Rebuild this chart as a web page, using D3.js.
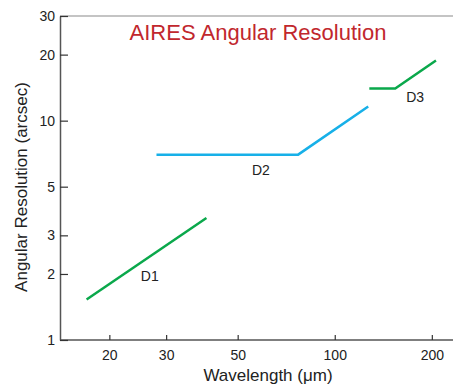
<!DOCTYPE html>
<html>
<head>
<meta charset="utf-8">
<script src="https://cdn.jsdelivr.net/npm/d3@7"></script>
<style>
  body { margin: 0; background: #fff; }
  svg { display: block; font-family: "Liberation Sans", Arial, sans-serif; }
</style>
</head>
<body>
<div id="chart"></div>
<script>
// Detector segments: wavelength (um) vs angular resolution (arcsec)
const d1Wavelength = [17, 40];
const d1Resolution = [1.53, 3.6];
const d2Wavelength = [28, 77, 127];
const d2Resolution = [7.0, 7.0, 11.6];
const d3Wavelength = [128, 154, 206];
const d3Resolution = [14.0, 14.0, 18.8];

const segmentNames = ["D1", "D2", "D3"];
// label anchor points in data space
const labelWavelength = [26.7, 59, 177.5];
const labelResolution = [1.95, 5.93, 12.87];

const xTicks = [20, 30, 50, 100, 200];
const yTicks = [1, 2, 3, 5, 10, 20, 30];

const width = 453;
const height = 388;
const margin = { top: 16, right: 1, bottom: 48, left: 60 };

const svg = d3.select("#chart").append("svg").attr("width", width).attr("height", height);

const x = d3.scaleLog().domain([14.06, 231]).range([margin.left, width - margin.right]);
const y = d3.scaleLog().domain([1, 30]).range([height - margin.bottom, margin.top]);

// top border line
svg.append("line")
  .attr("x1", margin.left).attr("x2", width)
  .attr("y1", margin.top).attr("y2", margin.top)
  .attr("stroke", "#8a8a8a").attr("stroke-width", 1.2);

// x axis (ticks point inward)
const xAxis = svg.append("g")
  .attr("transform", `translate(0,${height - margin.bottom})`)
  .call(d3.axisBottom(x).tickValues(xTicks).tickFormat(d3.format("d")).tickSize(-5).tickPadding(10).tickSizeOuter(0));
xAxis.select(".domain").attr("stroke", "#555").attr("stroke-width", 1.5).attr("d", `M${margin.left},0H${width}`);
xAxis.selectAll(".tick line").attr("stroke", "#333").attr("stroke-width", 1.2);
xAxis.selectAll(".tick text").attr("font-size", 14).attr("fill", "#222");

// y axis (ticks point inward)
const yAxis = svg.append("g")
  .attr("transform", `translate(${margin.left},0)`)
  .call(d3.axisLeft(y).tickValues(yTicks).tickFormat(d3.format("d")).tickSize(-8).tickPadding(5).tickSizeOuter(0));
yAxis.select(".domain").attr("stroke", "#555").attr("stroke-width", 1.5);
yAxis.selectAll(".tick line").attr("stroke", "#333").attr("stroke-width", 1.2);
yAxis.selectAll(".tick text").attr("font-size", 14).attr("fill", "#222");

// axis titles
svg.append("text")
  .attr("x", 268).attr("y", 381)
  .attr("text-anchor", "middle")
  .attr("font-size", 17).attr("fill", "#222")
  .text("Wavelength (\u03bcm)");

svg.append("text")
  .attr("transform", `translate(27,187) rotate(-90)`)
  .attr("text-anchor", "middle")
  .attr("font-size", 17).attr("fill", "#222")
  .text("Angular Resolution (arcsec)");

// chart title
svg.append("text")
  .attr("x", 258).attr("y", 40)
  .attr("text-anchor", "middle")
  .attr("font-size", 22).attr("fill", "#c1272d")
  .text("AIRES Angular Resolution");

const line = d3.line().x((d) => x(d[0])).y((d) => y(d[1]));

const segments = [
  { pts: d3.zip(d1Wavelength, d1Resolution), color: "#0aa84b" },
  { pts: d3.zip(d2Wavelength, d2Resolution), color: "#17b0e8" },
  { pts: d3.zip(d3Wavelength, d3Resolution), color: "#0aa84b" },
];

svg.selectAll("path.seg")
  .data(segments)
  .join("path")
  .attr("class", "seg")
  .attr("d", (d) => line(d.pts))
  .attr("fill", "none")
  .attr("stroke", (d) => d.color)
  .attr("stroke-width", 2.5);

svg.selectAll("text.lab")
  .data(segmentNames)
  .join("text")
  .attr("class", "lab")
  .attr("x", (d, i) => x(labelWavelength[i]))
  .attr("y", (d, i) => y(labelResolution[i]))
  .attr("dy", "0.35em")
  .attr("text-anchor", "middle")
  .attr("font-size", 14).attr("fill", "#222")
  .text((d) => d);
</script>
</body>
</html>
